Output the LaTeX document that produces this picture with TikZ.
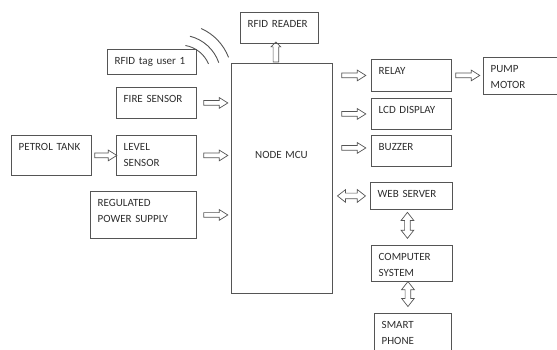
\documentclass[tikz,border=0pt]{standalone}
\usepackage{fontspec}
\setmainfont{Carlito}
\usetikzlibrary{shapes.arrows}
\definecolor{linec}{RGB}{85,85,85}
\definecolor{textc}{RGB}{45,45,45}
\tikzset{
  box/.style={draw=linec, line width=0.9pt, inner sep=0pt, anchor=north west},
  txt/.style={font=\fontsize{11}{15.5}\selectfont, text=textc, inner sep=0pt,
    anchor=north west, text width=140pt, align=left, text height=8pt},
  sarrow/.style={single arrow, draw=linec, line width=0.7pt, inner xsep=0pt, inner ysep=2pt,
    minimum width=1pt, minimum height=24pt, single arrow head extend=3pt,
    single arrow tip angle=64, sloped, allow upside down},
  uarrow/.style={sarrow, inner ysep=2.5pt, minimum height=20pt, single arrow head extend=2pt,
    single arrow tip angle=90},
  darrow/.style={double arrow, draw=linec, line width=0.7pt, inner xsep=0pt, inner ysep=2.5pt,
    minimum width=1pt, minimum height=28pt, double arrow head extend=3.5pt,
    double arrow tip angle=76, sloped, allow upside down},
  wave/.style={draw=linec, line width=0.9pt}
}
\newcommand\mybox[7]{%
  \node[box, minimum width={#4-#2}, minimum height={#5-#3},
    label={[txt, xshift=#6, yshift=-7.5]north west:#7}] (#1) at (#2,#3) {};}
\begin{document}
\begin{tikzpicture}[x=1pt, y=-1pt]
\useasboundingbox (0,0) rectangle (557,350);
\clip (0,0) rectangle (557,350);
\mybox{reader}{240}{12}{318}{43}{7.5}{RFID READER}
\mybox{tag}{107}{49}{196}{74}{7.5}{RFID tag user 1}
\node[box, minimum width=101, minimum height=230,
  label={[txt, xshift=24, yshift=-87]north west:NODE MCU}] (mcu) at (231,63) {};
\mybox{fire}{116}{87}{196}{118}{7.5}{FIRE SENSOR}
\mybox{petrol}{11}{135}{91}{175}{7.5}{PETROL TANK}
\mybox{level}{116}{135}{196}{175}{7.5}{LEVEL\\SENSOR}
\mybox{rps}{90}{191}{196}{238}{7.5}{REGULATED\\POWER SUPPLY}
\mybox{relay}{371}{59}{451}{91}{7.5}{RELAY}
\mybox{pump}{483}{57}{575}{94}{7.5}{PUMP\\MOTOR}
\mybox{lcd}{371}{98}{451}{129}{7.5}{LCD DISPLAY}
\mybox{buzzer}{371}{135}{451}{166}{7.5}{BUZZER}
\mybox{web}{370}{182}{452}{209}{7.5}{WEB SERVER}
\mybox{comp}{371}{245}{452}{281}{7.5}{COMPUTER\\SYSTEM}
\mybox{phone}{374}{313}{451}{365}{7.5}{SMART\\PHONE}
% waves
\coordinate (wc) at (180,76);
\draw[wave] (wc) ++(-80:31) arc[start angle=-80, end angle=-23, radius=31];
\draw[wave] (wc) ++(-76:41) arc[start angle=-76, end angle=-19, radius=41];
\draw[wave] (wc) ++(-66:52) arc[start angle=-66, end angle=-21, radius=52];
% arrows
\path ([xshift=-6]mcu.north) coordinate (ua) -- node[uarrow]{} (ua |- reader.south);
\path (fire.east) -- node[sarrow]{} (fire.east -| mcu.west);
\path (level.east) -- node[sarrow]{} (level.east -| mcu.west);
\path (rps.east) -- node[sarrow]{} (rps.east -| mcu.west);
\path (petrol.east) -- node[sarrow, minimum height=22pt]{} (level.west);
\path (mcu.east |- relay.west) -- node[sarrow]{} (relay.west);
\path (mcu.east |- lcd.west) -- node[sarrow]{} (lcd.west);
\path ([yshift=3]buzzer.west) coordinate (bz) (mcu.east |- bz) -- node[sarrow]{} (bz);
\path (relay.east) -- node[sarrow, pos=0.45]{} (relay.east -| pump.west);
\path (mcu.east |- web.west) -- node[darrow]{} (web.west);
\path ([xshift=-4]web.south) coordinate (wa) -- node[darrow, pos=0.44, minimum height=26pt]{} (wa |- comp.north);
\path ([xshift=-4]comp.south) coordinate (ca) -- node[darrow, pos=0.39, minimum height=25pt]{} (ca |- phone.north);
\end{tikzpicture}
\end{document}
